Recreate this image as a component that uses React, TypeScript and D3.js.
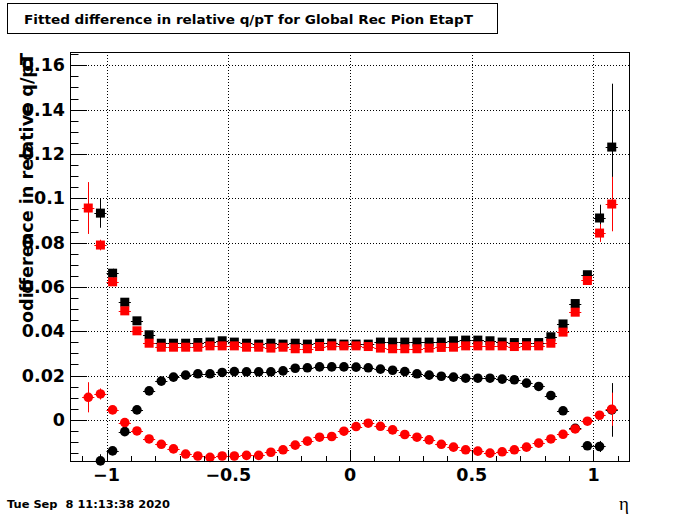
import React from 'react';
import * as d3 from 'd3';

const etaBins = [
  -1.075, -1.025, -0.975, -0.925, -0.875, -0.825, -0.775, -0.725, -0.675, -0.625, -0.575,
  -0.525, -0.475, -0.425, -0.375, -0.325, -0.275, -0.225, -0.175, -0.125, -0.075, -0.025,
  0.025, 0.075, 0.125, 0.175, 0.225, 0.275, 0.325, 0.375, 0.425, 0.475, 0.525,
  0.575, 0.625, 0.675, 0.725, 0.775, 0.825, 0.875, 0.925, 0.975, 1.025, 1.075,
];

const blackSquares = [
  null, 0.0933, 0.0662, 0.0531, 0.0447, 0.0384, 0.0346, 0.0346, 0.0346, 0.0349, 0.0351,
  0.0357, 0.0351, 0.0346, 0.0342, 0.0346, 0.0342, 0.0346, 0.0342, 0.0346, 0.0346, 0.0342,
  0.0342, 0.0342, 0.0351, 0.0351, 0.0351, 0.0351, 0.0351, 0.0351, 0.0357, 0.036, 0.036,
  0.0357, 0.0351, 0.0349, 0.0349, 0.0349, 0.0375, 0.0433, 0.0525, 0.0655, 0.0911, 0.1231,
];
const blackSquaresErr = [
  null, 0.0066, 0.002, 0.0015, 0.001, 0.0008, 0.0008, 0.0008, 0.0008, 0.0008, 0.0008,
  0.0008, 0.0008, 0.0008, 0.0008, 0.0008, 0.0008, 0.0008, 0.0008, 0.0008, 0.0008, 0.0008,
  0.0008, 0.0008, 0.0008, 0.0008, 0.0008, 0.0008, 0.0008, 0.0008, 0.0008, 0.0008, 0.0008,
  0.0008, 0.0008, 0.0008, 0.0008, 0.0008, 0.0008, 0.001, 0.0015, 0.0015, 0.006, 0.0286,
];

const redSquares = [
  0.0956, 0.0789, 0.0623, 0.0492, 0.0402, 0.0346, 0.0328, 0.0328, 0.0328, 0.0328, 0.0334,
  0.0334, 0.0334, 0.0328, 0.0328, 0.0324, 0.0328, 0.0321, 0.0321, 0.0331, 0.0334, 0.0334,
  0.0334, 0.0331, 0.0324, 0.0321, 0.0321, 0.0321, 0.0324, 0.0327, 0.0328, 0.0334, 0.0334,
  0.0334, 0.0334, 0.0331, 0.0334, 0.0334, 0.0346, 0.0396, 0.0486, 0.0629, 0.0843, 0.0974,
];
const redSquaresErr = [
  0.0117, 0.0024, 0.0015, 0.001, 0.0008, 0.0008, 0.0008, 0.0008, 0.0008, 0.0008, 0.0008,
  0.0008, 0.0008, 0.0008, 0.0008, 0.0008, 0.0008, 0.0008, 0.0008, 0.0008, 0.0008, 0.0008,
  0.0008, 0.0008, 0.0008, 0.0008, 0.0008, 0.0008, 0.0008, 0.0008, 0.0008, 0.0008, 0.0008,
  0.0008, 0.0008, 0.0008, 0.0008, 0.0008, 0.0008, 0.001, 0.0012, 0.0015, 0.004, 0.0123,
];

const blackCircles = [
  null, -0.0185, -0.014, -0.0053, 0.0045, 0.0131, 0.0175, 0.0193, 0.0202, 0.0208, 0.0208,
  0.0214, 0.0218, 0.0217, 0.0217, 0.0217, 0.0221, 0.0233, 0.0235, 0.0239, 0.0239, 0.0239,
  0.0238, 0.0235, 0.0229, 0.0224, 0.0218, 0.0208, 0.0202, 0.0197, 0.0193, 0.0188, 0.0188,
  0.0188, 0.0184, 0.0181, 0.0166, 0.0151, 0.011, 0.0041, -0.0038, -0.0117, -0.012, 0.0045,
];
const blackCirclesErr = [
  null, 0.003, 0.0015, 0.001, 0.0008, 0.0008, 0.0008, 0.0008, 0.0008, 0.0008, 0.0008,
  0.0008, 0.0008, 0.0008, 0.0008, 0.0008, 0.0008, 0.0008, 0.0008, 0.0008, 0.0008, 0.0008,
  0.0008, 0.0008, 0.0008, 0.0008, 0.0008, 0.0008, 0.0008, 0.0008, 0.0008, 0.0008, 0.0008,
  0.0008, 0.0008, 0.0008, 0.0008, 0.0008, 0.0008, 0.0008, 0.001, 0.0015, 0.0025, 0.0121,
];

const redCircles = [
  0.0102, 0.0117, 0.0045, -0.0012, -0.005, -0.0086, -0.011, -0.0131, -0.0154, -0.0163, -0.0169,
  -0.0163, -0.0163, -0.016, -0.016, -0.0146, -0.0135, -0.0114, -0.0096, -0.0078, -0.0075, -0.0051,
  -0.003, -0.0015, -0.0029, -0.0045, -0.0066, -0.0078, -0.009, -0.011, -0.0123, -0.0135, -0.0141,
  -0.015, -0.0144, -0.0135, -0.0123, -0.0105, -0.0086, -0.0065, -0.0041, -0.0006, 0.0021, 0.0048,
];
const redCirclesErr = [
  0.0068, 0.0025, 0.0012, 0.0008, 0.0008, 0.0008, 0.0008, 0.0008, 0.0008, 0.0008, 0.0008,
  0.0008, 0.0008, 0.0008, 0.0008, 0.0008, 0.0008, 0.0008, 0.0008, 0.0008, 0.0008, 0.0008,
  0.0008, 0.0008, 0.0008, 0.0008, 0.0008, 0.0008, 0.0008, 0.0008, 0.0008, 0.0008, 0.0008,
  0.0008, 0.0008, 0.0008, 0.0008, 0.0008, 0.0008, 0.0008, 0.0008, 0.001, 0.0015, 0.0075,
];

const binHalfWidth = 0.025;
const yTickValues = [0, 0.02, 0.04, 0.06, 0.08, 0.1, 0.12, 0.14, 0.16];
const yTickLabels = ['0', '0.02', '0.04', '0.06', '0.08', '0.1', '0.12', '0.14', '0.16'];
const xTickValues = [-1, -0.5, 0, 0.5, 1];
const xTickLabels = ['\u22121', '\u22120.5', '0', '0.5', '1'];

const titleText = 'Fitted difference in relative q/pT for Global Rec Pion EtapT';
const yTitleText = 'odifference in relative q/pT';
const xTitleText = '\u03b7';
const dateText = 'Tue Sep\u00a0\u00a08 11:13:38 2020';

const W = 700;
const H = 514;
const L = 70, R = 630, T = 52, B = 462;

type Series = { vals: (number | null)[]; errs: (number | null)[]; color: string; shape: 'sq' | 'circ' };

export default function App() {
  const x = d3.scaleLinear().domain([-1.15, 1.15]).range([L, R]);
  const y = d3.scaleLinear().domain([-0.019, 0.166]).range([B, T]);

  const yMinor = d3.range(-0.015, 0.1661, 0.005).filter((v) => Math.abs(Math.round(v / 0.02) * 0.02 - v) > 1e-6);
  const xMinor = d3.range(-1.1, 1.1501, 0.1).filter((v) => Math.abs(Math.round(v / 0.5) * 0.5 - v) > 1e-6);

  const series: Series[] = [
    { vals: blackSquares, errs: blackSquaresErr, color: '#000000', shape: 'sq' },
    { vals: redSquares, errs: redSquaresErr, color: '#ff0000', shape: 'sq' },
    { vals: blackCircles, errs: blackCirclesErr, color: '#000000', shape: 'circ' },
    { vals: redCircles, errs: redCirclesErr, color: '#ff0000', shape: 'circ' },
  ];

  const font = "'DejaVu Sans', sans-serif";

  return (
    <svg width={W} height={H} style={{ position: 'absolute', left: 0, top: 0, background: '#fff' }}>
      <rect x={0} y={0} width={W} height={H} fill="#fff" />
      {/* title box */}
      <rect x={7.5} y={3.5} width={490} height={30} fill="#fff" stroke="#000" strokeWidth={1} />
      <text x={24} y={23.5} fontFamily={font} fontWeight="bold" fontSize={11.5} textLength={449} lengthAdjust="spacingAndGlyphs">
        {titleText}
      </text>

      {/* grid */}
      <g stroke="#000" strokeWidth={1} strokeDasharray="1,2">
        {yTickValues.map((v) => (
          <line key={'gy' + v} x1={L} x2={R} y1={Math.round(y(v)) + 0.5} y2={Math.round(y(v)) + 0.5} />
        ))}
        {xTickValues.map((v) => (
          <line key={'gx' + v} x1={Math.round(x(v)) + 0.5} x2={Math.round(x(v)) + 0.5} y1={T} y2={B} />
        ))}
      </g>

      {/* data */}
      <g>
        {series.map((s, si) => (
          <g key={si} stroke={s.color} fill={s.color} strokeWidth={1}>
            {etaBins.map((c, i) => {
              const v = s.vals[i];
              const e = s.errs[i];
              if (v === null || v === undefined) return null;
              const cx = x(c);
              const cy = y(v);
              const lo = Math.min(B, y(v - (e || 0)));
              const hi = Math.max(T, y(v + (e || 0)));
              return (
                <g key={i}>
                  <line x1={x(c - binHalfWidth)} x2={x(c + binHalfWidth)} y1={Math.round(cy) + 0.5} y2={Math.round(cy) + 0.5} />
                  <line x1={Math.round(cx) + 0.5} x2={Math.round(cx) + 0.5} y1={lo} y2={hi} />
                  {s.shape === 'sq' ? (
                    <rect x={cx - 4.5} y={cy - 4.5} width={9} height={9} stroke="none" />
                  ) : (
                    <circle cx={cx} cy={cy} r={4.8} stroke="none" />
                  )}
                </g>
              );
            })}
          </g>
        ))}
      </g>

      {/* frame */}
      <rect x={L + 0.5} y={T + 0.5} width={R - L - 1} height={B - T - 1} fill="none" stroke="#000" strokeWidth={1} />

      {/* axis ticks */}
      <g stroke="#000" strokeWidth={1}>
        {yTickValues.map((v) => (
          <line key={'ty' + v} x1={L} x2={L + 17} y1={Math.round(y(v)) + 0.5} y2={Math.round(y(v)) + 0.5} />
        ))}
        {yMinor.map((v) => (
          <line key={'tym' + v} x1={L} x2={L + 8.5} y1={Math.round(y(v)) + 0.5} y2={Math.round(y(v)) + 0.5} />
        ))}
        {xTickValues.map((v) => (
          <line key={'tx' + v} x1={Math.round(x(v)) + 0.5} x2={Math.round(x(v)) + 0.5} y1={B} y2={B - 12} />
        ))}
        {xMinor.map((v) => (
          <line key={'txm' + v} x1={Math.round(x(v)) + 0.5} x2={Math.round(x(v)) + 0.5} y1={B} y2={B - 6} />
        ))}
      </g>

      {/* y tick labels */}
      {yTickValues.map((v, i) => (
        <text key={'ly' + v} x={65} y={y(v) + 6.2} textAnchor="end" fontFamily={font} fontWeight="bold" fontSize={17.5}>
          {yTickLabels[i]}
        </text>
      ))}
      {/* x tick labels */}
      {xTickValues.map((v, i) => (
        <text key={'lx' + v} x={x(v)} y={480.5} textAnchor="middle" fontFamily={font} fontWeight="bold" fontSize={17.5}>
          {xTickLabels[i]}
        </text>
      ))}

      {/* y title */}
      <text
        transform={`translate(33, 188) rotate(-90)`}
        textAnchor="middle"
        fontFamily={font}
        fontWeight="bold"
        fontSize={18}
        textLength={270}
        lengthAdjust="spacingAndGlyphs"
      >
        {yTitleText}
      </text>

      {/* x title */}
      <text x={629} y={510} textAnchor="end" fontFamily="'Liberation Serif', 'DejaVu Serif', serif" fontSize={19}>
        {xTitleText}
      </text>

      {/* date */}
      <text x={7} y={508} fontFamily={font} fontWeight="bold" fontSize={10.5} textLength={163} lengthAdjust="spacingAndGlyphs">
        {dateText}
      </text>
    </svg>
  );
}
